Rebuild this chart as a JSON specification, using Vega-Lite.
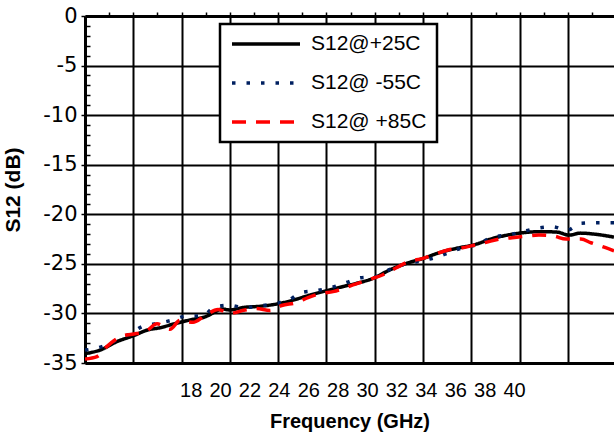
{
  "$schema": "https://vega.github.io/schema/vega-lite/v6.json",
  "width": 529,
  "height": 347,
  "autosize": {"type": "none"},
  "padding": {"left": 85, "top": 16, "right": 0, "bottom": 71},
  "background": "white",
  "config": {
    "view": {"stroke": null},
    "legend": {"strokeWidth": 2.5}
  },
  "data": {
    "values": [
      {"series": "S12@+25C", "f": 10.81, "s12": -34.05},
      {"series": "S12@+25C", "f": 11.83, "s12": -33.7},
      {"series": "S12@+25C", "f": 12.97, "s12": -32.85},
      {"series": "S12@+25C", "f": 14.10, "s12": -32.25},
      {"series": "S12@+25C", "f": 15.10, "s12": -31.65},
      {"series": "S12@+25C", "f": 15.91, "s12": -31.45},
      {"series": "S12@+25C", "f": 16.82, "s12": -31.07},
      {"series": "S12@+25C", "f": 17.95, "s12": -30.66},
      {"series": "S12@+25C", "f": 19.09, "s12": -30.28},
      {"series": "S12@+25C", "f": 19.77, "s12": -29.75},
      {"series": "S12@+25C", "f": 20.13, "s12": -29.55},
      {"series": "S12@+25C", "f": 20.67, "s12": -29.65},
      {"series": "S12@+25C", "f": 21.58, "s12": -29.4},
      {"series": "S12@+25C", "f": 22.71, "s12": -29.28},
      {"series": "S12@+25C", "f": 23.85, "s12": -29.05},
      {"series": "S12@+25C", "f": 24.98, "s12": -28.65},
      {"series": "S12@+25C", "f": 26.12, "s12": -28.15},
      {"series": "S12@+25C", "f": 27.25, "s12": -27.7},
      {"series": "S12@+25C", "f": 28.61, "s12": -27.2},
      {"series": "S12@+25C", "f": 29.29, "s12": -26.96},
      {"series": "S12@+25C", "f": 30.42, "s12": -26.46},
      {"series": "S12@+25C", "f": 31.56, "s12": -25.6},
      {"series": "S12@+25C", "f": 32.69, "s12": -24.95},
      {"series": "S12@+25C", "f": 33.82, "s12": -24.45},
      {"series": "S12@+25C", "f": 34.96, "s12": -23.85},
      {"series": "S12@+25C", "f": 36.10, "s12": -23.43},
      {"series": "S12@+25C", "f": 37.46, "s12": -23.0},
      {"series": "S12@+25C", "f": 38.41, "s12": -22.5},
      {"series": "S12@+25C", "f": 39.54, "s12": -22.1},
      {"series": "S12@+25C", "f": 40.67, "s12": -21.85},
      {"series": "S12@+25C", "f": 41.81, "s12": -21.75},
      {"series": "S12@+25C", "f": 42.94, "s12": -21.8},
      {"series": "S12@+25C", "f": 43.74, "s12": -22.1},
      {"series": "S12@+25C", "f": 44.53, "s12": -21.9},
      {"series": "S12@+25C", "f": 45.44, "s12": -22.0},
      {"series": "S12@+25C", "f": 46.80, "s12": -22.3},

      {"series": "S12@ -55C", "f": 10.81, "s12": -33.7},
      {"series": "S12@ -55C", "f": 11.95, "s12": -33.35},
      {"series": "S12@ -55C", "f": 12.92, "s12": -32.7},
      {"series": "S12@ -55C", "f": 13.87, "s12": -32.05},
      {"series": "S12@ -55C", "f": 14.78, "s12": -31.27},
      {"series": "S12@ -55C", "f": 15.80, "s12": -31.0},
      {"series": "S12@ -55C", "f": 16.78, "s12": -30.66},
      {"series": "S12@ -55C", "f": 17.73, "s12": -30.26},
      {"series": "S12@ -55C", "f": 18.82, "s12": -30.26},
      {"series": "S12@ -55C", "f": 19.61, "s12": -29.35},
      {"series": "S12@ -55C", "f": 20.63, "s12": -29.17},
      {"series": "S12@ -55C", "f": 21.63, "s12": -29.4},
      {"series": "S12@ -55C", "f": 22.67, "s12": -29.25},
      {"series": "S12@ -55C", "f": 23.67, "s12": -29.03},
      {"series": "S12@ -55C", "f": 24.62, "s12": -28.68},
      {"series": "S12@ -55C", "f": 25.55, "s12": -27.9},
      {"series": "S12@ -55C", "f": 26.57, "s12": -27.7},
      {"series": "S12@ -55C", "f": 27.59, "s12": -27.37},
      {"series": "S12@ -55C", "f": 28.56, "s12": -26.9},
      {"series": "S12@ -55C", "f": 29.57, "s12": -26.4},
      {"series": "S12@ -55C", "f": 30.54, "s12": -26.3},
      {"series": "S12@ -55C", "f": 31.56, "s12": -25.55},
      {"series": "S12@ -55C", "f": 32.51, "s12": -25.05},
      {"series": "S12@ -55C", "f": 33.53, "s12": -24.75},
      {"series": "S12@ -55C", "f": 34.55, "s12": -24.4},
      {"series": "S12@ -55C", "f": 35.52, "s12": -23.9},
      {"series": "S12@ -55C", "f": 36.50, "s12": -23.37},
      {"series": "S12@ -55C", "f": 37.50, "s12": -23.05},
      {"series": "S12@ -55C", "f": 38.52, "s12": -22.3},
      {"series": "S12@ -55C", "f": 39.54, "s12": -22.1},
      {"series": "S12@ -55C", "f": 40.56, "s12": -21.76},
      {"series": "S12@ -55C", "f": 41.58, "s12": -21.4},
      {"series": "S12@ -55C", "f": 42.60, "s12": -21.25},
      {"series": "S12@ -55C", "f": 43.62, "s12": -21.6},
      {"series": "S12@ -55C", "f": 44.53, "s12": -20.9},
      {"series": "S12@ -55C", "f": 45.55, "s12": -20.85},
      {"series": "S12@ -55C", "f": 46.80, "s12": -20.85},

      {"series": "S12@ +85C", "f": 10.81, "s12": -34.6},
      {"series": "S12@ +85C", "f": 11.63, "s12": -34.35},
      {"series": "S12@ +85C", "f": 12.29, "s12": -33.35},
      {"series": "S12@ +85C", "f": 13.31, "s12": -32.3},
      {"series": "S12@ +85C", "f": 14.01, "s12": -32.1},
      {"series": "S12@ +85C", "f": 14.96, "s12": -31.8},
      {"series": "S12@ +85C", "f": 15.71, "s12": -31.05},
      {"series": "S12@ +85C", "f": 16.59, "s12": -31.6},
      {"series": "S12@ +85C", "f": 17.27, "s12": -30.7},
      {"series": "S12@ +85C", "f": 18.16, "s12": -30.9},
      {"series": "S12@ +85C", "f": 18.91, "s12": -30.3},
      {"series": "S12@ +85C", "f": 19.86, "s12": -29.6},
      {"series": "S12@ +85C", "f": 20.27, "s12": -29.8},
      {"series": "S12@ +85C", "f": 20.67, "s12": -30.0},
      {"series": "S12@ +85C", "f": 21.69, "s12": -29.65},
      {"series": "S12@ +85C", "f": 22.49, "s12": -29.5},
      {"series": "S12@ +85C", "f": 23.39, "s12": -29.7},
      {"series": "S12@ +85C", "f": 24.19, "s12": -29.2},
      {"series": "S12@ +85C", "f": 25.21, "s12": -28.9},
      {"series": "S12@ +85C", "f": 25.98, "s12": -28.4},
      {"series": "S12@ +85C", "f": 26.91, "s12": -27.97},
      {"series": "S12@ +85C", "f": 27.68, "s12": -27.8},
      {"series": "S12@ +85C", "f": 28.61, "s12": -27.37},
      {"series": "S12@ +85C", "f": 29.04, "s12": -27.13},
      {"series": "S12@ +85C", "f": 29.72, "s12": -26.8},
      {"series": "S12@ +85C", "f": 30.40, "s12": -26.46},
      {"series": "S12@ +85C", "f": 31.08, "s12": -26.1},
      {"series": "S12@ +85C", "f": 32.10, "s12": -25.3},
      {"series": "S12@ +85C", "f": 32.78, "s12": -24.8},
      {"series": "S12@ +85C", "f": 33.80, "s12": -24.45},
      {"series": "S12@ +85C", "f": 34.48, "s12": -24.1},
      {"series": "S12@ +85C", "f": 35.50, "s12": -23.6},
      {"series": "S12@ +85C", "f": 36.32, "s12": -23.43},
      {"series": "S12@ +85C", "f": 37.34, "s12": -23.1},
      {"series": "S12@ +85C", "f": 38.09, "s12": -22.83},
      {"series": "S12@ +85C", "f": 38.97, "s12": -22.5},
      {"series": "S12@ +85C", "f": 39.86, "s12": -22.36},
      {"series": "S12@ +85C", "f": 40.88, "s12": -22.2},
      {"series": "S12@ +85C", "f": 41.69, "s12": -22.1},
      {"series": "S12@ +85C", "f": 42.71, "s12": -22.2},
      {"series": "S12@ +85C", "f": 43.53, "s12": -22.5},
      {"series": "S12@ +85C", "f": 44.55, "s12": -22.5},
      {"series": "S12@ +85C", "f": 45.23, "s12": -22.87},
      {"series": "S12@ +85C", "f": 46.23, "s12": -23.37},
      {"series": "S12@ +85C", "f": 46.80, "s12": -23.7}
    ]
  },
  "layer": [
    {
      "mark": {"type": "line", "interpolate": "monotone", "strokeWidth": 3.5, "clip": true},
      "encoding": {
        "x": {
          "field": "f", "type": "quantitative",
          "scale": {"domain": [10.81, 46.8], "nice": false, "zero": false},
          "axis": {
            "orient": "bottom",
            "values": [18, 20, 22, 24, 26, 28, 30, 32, 34, 36, 38, 40],
            "grid": false, "ticks": false, "tickSize": 0,
            "labelFont": "Liberation Sans", "labelFontSize": 20, "labelColor": "black",
            "labelPadding": 17, "labelFlush": false, "labelOverlap": false,
            "domainColor": "black", "domainWidth": 3,
            "title": "Frequency (GHz)", "titleFont": "Liberation Sans", "titleFontSize": 20,
            "titleFontWeight": "bold", "titleColor": "black", "titleY": 48
          }
        },
        "y": {
          "field": "s12", "type": "quantitative",
          "scale": {"domain": [-35, 0], "nice": false, "zero": false},
          "axis": {
            "values": [-35, -34, -33, -32, -31, -30, -29, -28, -27, -26, -25, -24, -23, -22, -21, -20, -19, -18, -17, -16, -15, -14, -13, -12, -11, -10, -9, -8, -7, -6, -5, -4, -3, -2, -1, 0],
            "labelExpr": "datum.value % 5 === 0 ? toString(datum.value) : ''",
            "labelFont": "DejaVu Sans", "labelFontSize": 21, "labelColor": "black",
            "labelPadding": 4, "labelFlush": false, "labelOverlap": false,
            "grid": true, "gridColor": "black", "gridWidth": 2,
            "gridOpacity": {"condition": {"test": "datum.value % 5 === 0", "value": 1}, "value": 0},
            "ticks": true, "tickColor": "black", "tickWidth": 1.5,
            "tickSize": {"condition": {"test": "datum.value % 5 === 0", "value": 4}, "value": -5},
            "domainColor": "black", "domainWidth": 3,
            "title": "S12 (dB)", "titleFont": "Liberation Sans", "titleFontSize": 21,
            "titleFontWeight": "bold", "titleColor": "black", "titleX": -62, "titleY": 173.5
          }
        },
        "color": {
          "field": "series", "type": "nominal",
          "scale": {"domain": ["S12@+25C", "S12@ -55C", "S12@ +85C"], "range": ["#000000", "#002060", "#FF0000"]},
          "legend": {
            "title": null, "orient": "none", "legendX": 135, "legendY": 8,
            "symbolType": "stroke", "symbolSize": 4624, "symbolStrokeWidth": 3.5,
            "clipHeight": 20, "rowPadding": 18, "padding": 10, "labelOffset": 9,
            "labelFont": "Liberation Sans", "labelFontSize": 21, "labelColor": "black",
            "fillColor": "white", "strokeColor": "black",
            "encode": {"symbols": {"update": {"strokeDash": [{"test": "datum.label === 'S12@ -55C'", "value": [3.5, 11]}, {"value": [1, 0]}]}}}
          }
        },
        "strokeDash": {
          "field": "series", "type": "nominal",
          "scale": {"domain": ["S12@+25C", "S12@ -55C", "S12@ +85C"], "range": [[1, 0], [3.5, 11], [14, 10]]},
          "legend": null
        }
      }
    },
    {
      "mark": {"type": "rule", "opacity": 0},
      "encoding": {
        "x": {
          "field": "f", "type": "quantitative",
          "scale": {"domain": [10.81, 46.8], "nice": false, "zero": false},
          "axis": {
            "orient": "top",
            "values": [12.4529, 14.0957, 15.7386, 17.3814, 19.0243, 20.6671, 22.31, 23.9529, 25.5957, 27.2386, 28.8814, 30.5243, 32.1671, 33.81, 35.4529, 37.0957, 38.7386, 40.3814, 42.0243, 43.6671, 45.31],
            "labels": false, "title": null,
            "grid": true, "gridColor": "black", "gridWidth": 2,
            "gridOpacity": {"condition": {"test": "round((datum.value - 10.81) / 1.642857) % 2 === 0", "value": 1}, "value": 0},
            "ticks": true, "tickSize": 4, "tickColor": "black", "tickWidth": 1.5,
            "domainColor": "black", "domainWidth": 3
          }
        }
      }
    }
  ],
  "resolve": {"axis": {"x": "independent"}}
}
